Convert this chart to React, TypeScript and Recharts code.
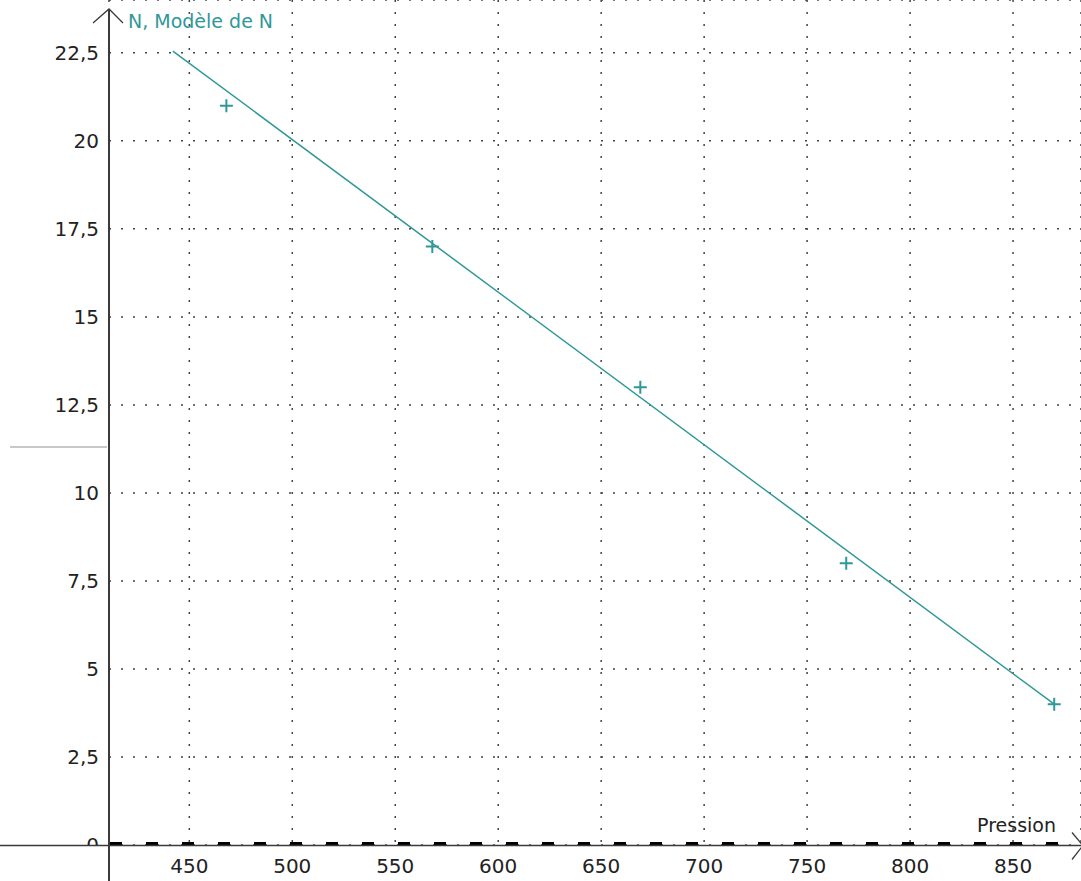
import {
  CartesianGrid,
  ComposedChart,
  Line,
  ReferenceLine,
  Scatter,
  XAxis,
  YAxis,
} from "recharts";

// measured points (pression, N)
const pression = [468, 568, 669, 769, 870];
const nValues = [21, 17, 13, 8, 4];

// fitted model, endpoints
const modelPression = [442, 870];
const modelN = [22.55, 4.0];

const xTicks = [450, 500, 550, 600, 650, 700, 750, 800, 850];
const yTicks = [0, 2.5, 5, 7.5, 10, 12.5, 15, 17.5, 20, 22.5];

const measures = pression.map((p, i) => ({ p, n: nValues[i] }));
const model = modelPression.map((p, i) => ({ p, m: modelN[i] }));

const teal = "#2f9898";
const axisColor = "#3a3a3a";
const font = "'DejaVu Sans', Verdana, sans-serif";

const fmt = (v: number) => String(v).replace(".", ",");

function YTick({ x, y, payload }: any) {
  const label = fmt(payload.value);
  if (payload.value === 0) {
    return (
      <g>
        <clipPath id="zeroClip">
          <rect x={0} y={y - 30} width={x + 5} height={30} />
        </clipPath>
        <text x={x} y={y} dy="0.36em" textAnchor="end" fontSize={20} fill="#222" fontFamily={font} clipPath="url(#zeroClip)">
          {label}
        </text>
      </g>
    );
  }
  return (
    <text x={x} y={y} dy="0.36em" textAnchor="end" fontSize={20} fill="#222" fontFamily={font}>
      {label}
    </text>
  );
}

function Cross({ cx, cy }: any) {
  const s = 6.5;
  return (
    <path
      d={`M${cx - s},${cy}H${cx + s}M${cx},${cy - s}V${cy + s}`}
      stroke={teal}
      strokeWidth={2}
      fill="none"
    />
  );
}

function ZeroDashes({ x1, x2, y1 }: any) {
  return (
    <line x1={x1 + 1} x2={x2} y1={y1 - 1.5} y2={y1 - 1.5} stroke="#000" strokeWidth={3} strokeDasharray="12 24" />
  );
}

function XAxisArrow({ y1 }: any) {
  const y = y1 + 0.5;
  return (
    <g>
      <line x1={0} x2={1083} y1={y} y2={y} stroke={axisColor} strokeWidth={1.5} />
      <path d={`M1072,${y - 13}L1083,${y}L1072,${y + 14}`} stroke={axisColor} strokeWidth={1.3} fill="none" />
      <text x={1056} y={832} textAnchor="end" fontSize={19} fill="#222" fontFamily={font}>
        Pression
      </text>
    </g>
  );
}

function YAxisArrow({ x1 }: any) {
  return (
    <g>
      <line x1={x1} x2={x1} y1={9} y2={881} stroke={axisColor} strokeWidth={2} />
      <path d={`M${x1 - 16},23L${x1},9L${x1 + 14},23`} stroke={axisColor} strokeWidth={1.3} fill="none" />
      <line x1={10} x2={x1 - 2} y1={447} y2={447} stroke="#c8c8c8" strokeWidth={2} />
      <text x={x1 + 19} y={28} fontSize={19} fill={teal} fontFamily={font}>
        N, Modèle de N
      </text>
    </g>
  );
}

export default function App() {
  return (
    <div style={{ position: "absolute", left: 0, top: 0, width: 1081, height: 881, background: "#fff" }}>
      <ComposedChart width={1081} height={881} margin={{ top: 0, right: 0, bottom: 0, left: 0 }}>
        <CartesianGrid stroke="#444" strokeDasharray="2 10" strokeWidth={1.5} />
        <XAxis
          type="number"
          dataKey="p"
          domain={[411, 883]}
          ticks={xTicks}
          interval={0}
          allowDataOverflow
          axisLine={false}
          tickLine={false}
          tickSize={0}
          tickMargin={14}
          height={36}
          tick={{ fontSize: 20, fill: "#222", fontFamily: font }}
        />
        <YAxis
          type="number"
          domain={[0, 24]}
          ticks={yTicks}
          interval={0}
          allowDataOverflow
          axisLine={false}
          tickLine={false}
          tickSize={0}
          tickMargin={10}
          width={109}
          tick={<YTick />}
        />
        <Line
          data={model}
          dataKey="m"
          type="linear"
          stroke={teal}
          strokeWidth={1.5}
          dot={false}
          isAnimationActive={false}
          name="Modèle de N"
        />
        <Scatter data={measures} dataKey="n" shape={<Cross />} isAnimationActive={false} name="N" />
        <ReferenceLine y={0} shape={<ZeroDashes />} />
        <ReferenceLine y={0} shape={<XAxisArrow />} />
        <ReferenceLine x={411} shape={<YAxisArrow />} />
      </ComposedChart>
    </div>
  );
}
